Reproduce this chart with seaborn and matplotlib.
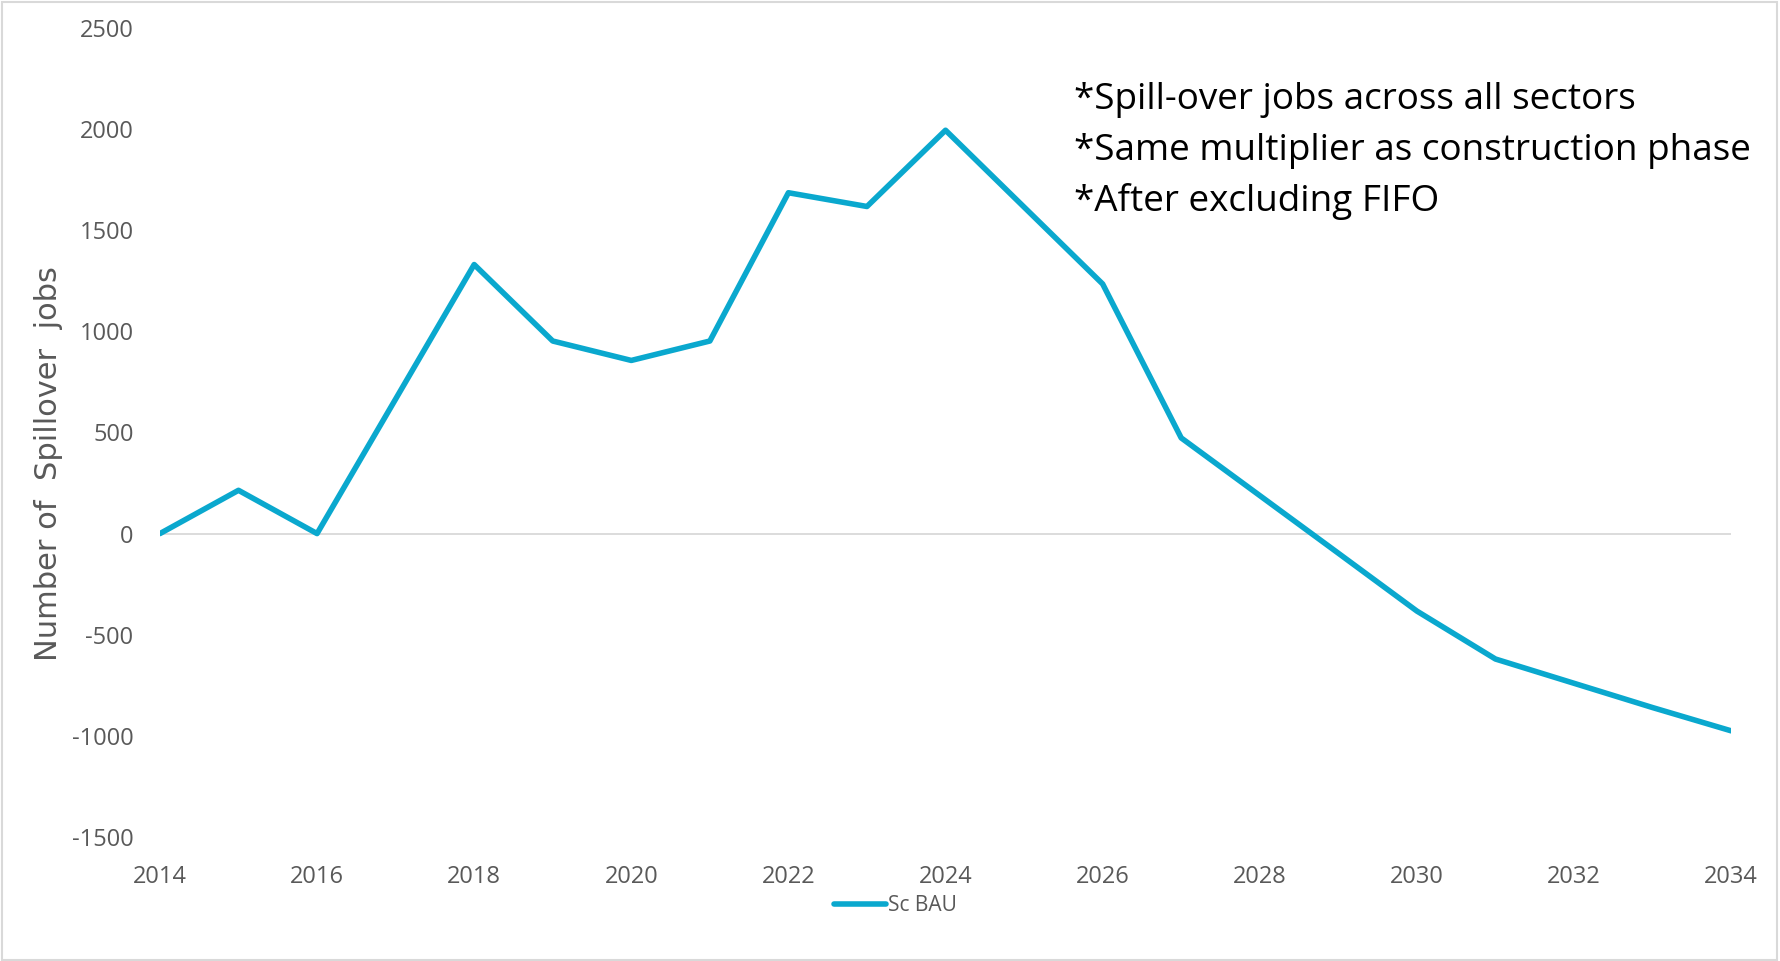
import matplotlib
matplotlib.use("Agg")
import matplotlib.pyplot as plt
import matplotlib.patches as mpatches
import seaborn as sns
import pandas as pd

years = [2014, 2015, 2016, 2017, 2018, 2019, 2020, 2021, 2022, 2023, 2024,
         2025, 2026, 2027, 2028, 2029, 2030, 2031, 2032, 2033, 2034]
sc_bau = [0, 214, 0, 665, 1330, 952, 856, 952, 1685, 1617, 1994,
          1614, 1234, 473, 188, -97, -383, -620, -740, -860, -975]
series_name = "Sc BAU"
y_ticks = [-1500, -1000, -500, 0, 500, 1000, 1500, 2000, 2500]
x_ticks = list(range(2014, 2035, 2))
y_label = "Number of  Spillover  jobs"
notes = ["*Spill-over jobs across all sectors",
         "*Same multiplier as construction phase",
         "*After excluding FIFO"]

sns.set_theme(style="white")
font = ["Open Sans", "DejaVu Sans"]
plt.rcParams["font.family"] = font
plt.rcParams["axes.unicode_minus"] = False

df = pd.DataFrame({"year": years, "value": sc_bau, "series": series_name})

fig = plt.figure(figsize=(17.81, 9.61), dpi=100)
ax = fig.add_axes([0.0898, 0.129, 0.8822, 0.842])
line_color = "#0AA8CE"
ax.axhline(0, color="#D9D9D9", lw=1.3, zorder=1)
sns.lineplot(data=df, x="year", y="value", hue="series", palette=[line_color],
             lw=4.0, ax=ax, legend=True, zorder=3)

ax.set_xlim(2014, 2034)
ax.set_ylim(-1500, 2500)
ax.set_xticks(x_ticks)
ax.set_yticks(y_ticks)
ax.tick_params(axis="x", length=0, pad=20, labelsize=17, labelcolor="#595959")
ax.tick_params(axis="y", length=0, pad=19, labelsize=17, labelcolor="#595959")
for s in ax.spines.values():
    s.set_visible(False)
ax.grid(False)
ax.set_xlabel("")
ax.set_ylabel("")
fig.text(49 / 1781, 1 - 464 / 961, y_label, rotation=90, fontsize=22,
         color="#595959", ha="center", va="center", family=["DejaVu Sans"])

leg = ax.legend(loc="center", bbox_to_anchor=(0.468, -0.085), frameon=False,
                fontsize=15, handlelength=2.5, handletextpad=0.1)
for t in leg.get_texts():
    t.set_color("#595959")

for i, note in enumerate(notes):
    fig.text(1074 / 1781, 1 - (100 + i * 51) / 961, note, fontsize=26.6,
             color="black", va="center", ha="left", family=font)

fig.patches.append(mpatches.Rectangle((0.001, 0.001), 0.997, 0.997,
                                      transform=fig.transFigure, fill=False,
                                      edgecolor="#D9D9D9", lw=1.5))

fig.savefig("out.png", dpi=100)
